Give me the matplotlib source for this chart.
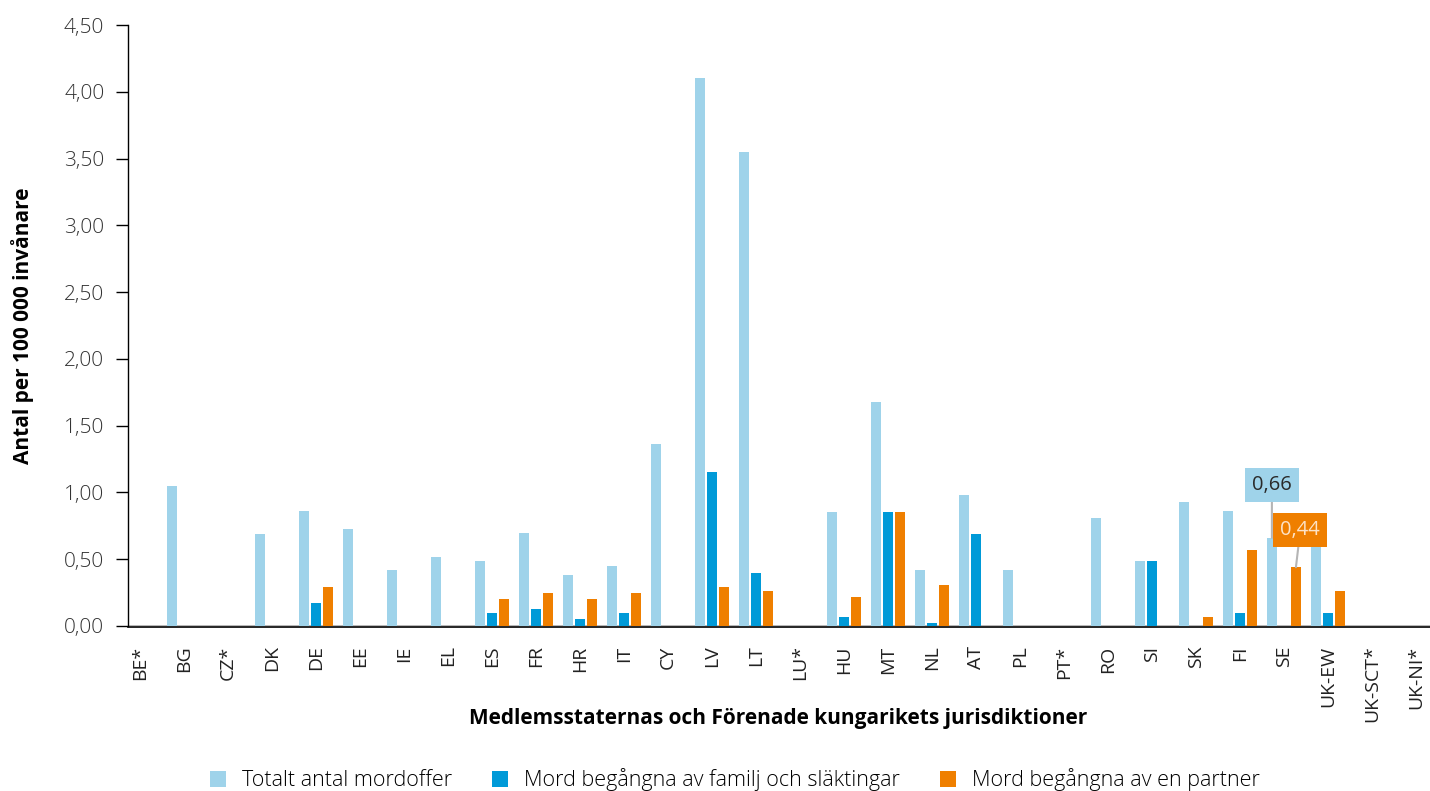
import numpy as np
import matplotlib
matplotlib.use('Agg')
import matplotlib.pyplot as plt
from matplotlib.ticker import FuncFormatter

plt.rcParams['font.family'] = ['Open Sans', 'DejaVu Sans']

countries = ['BE*', 'BG', 'CZ*', 'DK', 'DE', 'EE', 'IE', 'EL', 'ES', 'FR',
             'HR', 'IT', 'CY', 'LV', 'LT', 'LU*', 'HU', 'MT', 'NL', 'AT',
             'PL', 'PT*', 'RO', 'SI', 'SK', 'FI', 'SE', 'UK-EW', 'UK-SCT*', 'UK-NI*']
nan = np.nan
total   = [nan, 1.05, nan, 0.69, 0.86, 0.73, 0.42, 0.52, 0.49, 0.70,
           0.38, 0.45, 1.36, 4.10, 3.55, nan, 0.85, 1.68, 0.42, 0.98,
           0.42, nan, 0.81, 0.49, 0.93, 0.86, 0.66, 0.65, nan, nan]
family  = [nan, nan, nan, nan, 0.17, nan, nan, nan, 0.10, 0.13,
           0.05, 0.10, nan, 1.15, 0.40, nan, 0.07, 0.85, 0.02, 0.69,
           nan, nan, nan, 0.49, nan, 0.10, nan, 0.10, nan, nan]
partner = [nan, nan, nan, nan, 0.29, nan, nan, nan, 0.20, 0.25,
           0.20, 0.25, nan, 0.29, 0.26, nan, 0.22, 0.85, 0.31, nan,
           nan, nan, nan, nan, 0.07, 0.57, 0.44, 0.26, nan, nan]
series_names = ['Totalt antal mordoffer', 'Mord begångna av familj och släktingar',
                'Mord begångna av en partner']
colors = ['#9fd3ea', '#009ad8', '#ef7f00']

fig = plt.figure(figsize=(14.3, 7.91), dpi=100)
ax = fig.add_axes((128/1430, 1 - 626/791, 1 - 128/1430, (626 - 25)/791))

x = np.arange(len(countries))
w = 0.227
off = 0.273
for i, (vals, name, col) in enumerate(zip([total, family, partner], series_names, colors)):
  ax.bar(x + (i - 1)*off, vals, width=w, color=col, label=name, zorder=2)

ax.set_xlim(-0.27, 29.32)
ax.set_ylim(0, 4.5)
ax.set_yticks(np.arange(0, 4.51, 0.5))
ax.yaxis.set_major_formatter(FuncFormatter(lambda v, p: ('%.2f' % v).replace('.', ',')))
ax.set_xticks(x)
ax.set_xticklabels(countries)
ax.tick_params(axis='x', length=0, pad=13, labelsize=14, labelcolor='#222222', labelrotation=90)
ax.tick_params(axis='y', length=9, width=1, direction='out', pad=8, labelsize=15, labelcolor='#333333')
for t in ax.get_xticklabels() + ax.get_yticklabels():
  t.set_fontweight('light')

for s in ['top', 'right']:
  ax.spines[s].set_visible(False)
ax.spines['left'].set_linewidth(1)
ax.spines['bottom'].set_linewidth(1.2)
ax.spines['bottom'].set_position(('outward', 1))
ax.axhline(0, color='#aaaaaa', lw=1.2, zorder=1)

ax.set_ylabel('Antal per 100 000 invånare', fontweight='bold', fontsize=15)
ax.yaxis.set_label_coords(-0.072, 0.499)
ax.set_xlabel('Medlemsstaternas och Förenade kungarikets jurisdiktioner',
              fontweight='bold', fontsize=15)
ax.xaxis.set_label_coords(0.499, -0.136)

# labels for SE
ise = countries.index('SE')
kwa = dict(textcoords='data', ha='center', va='center', fontsize=14.5, zorder=5,
           arrowprops=dict(arrowstyle='-', color='#b5b5b5', lw=1.5, shrinkA=0, shrinkB=0))
ax.annotate('0,66', xy=(ise - off, total[ise]), xytext=(ise - off, 1.055), color='#2a2a2a',
            bbox=dict(boxstyle='square,pad=0.35', fc=colors[0], ec='none'), **kwa)
ax.annotate('0,44', xy=(ise + off, partner[ise]), xytext=(ise + off + 0.1, 0.72), color='#fde3c8',
            bbox=dict(boxstyle='square,pad=0.35', fc=colors[2], ec='none'), **kwa)

leg = fig.legend(loc='center', bbox_to_anchor=(0.514, 0.014), ncol=3, frameon=False,
                 prop={'size': 15.5, 'weight': 'light'}, handlelength=0.74, handleheight=0.74,
                 columnspacing=1.85, handletextpad=0.75)

fig.savefig('out.png', dpi=100)
plt.close(fig)
